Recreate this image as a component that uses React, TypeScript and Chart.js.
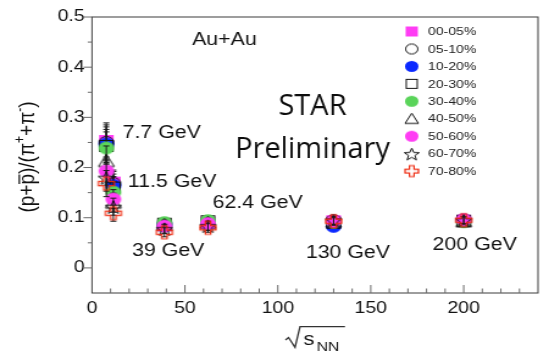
import React, { useEffect, useRef } from "react";
import { Chart, registerables } from "chart.js";

Chart.register(...registerables);

// Collision energies, sqrt(s_NN) in GeV
const energies = [7.7, 11.5, 39, 62.4, 130, 200];
const energyLabels = ["7.7 GeV", "11.5 GeV", "39 GeV", "62.4 GeV", "130 GeV", "200 GeV"];

const centralities = ["00-05%", "05-10%", "10-20%", "20-30%", "30-40%", "40-50%", "50-60%", "60-70%", "70-80%"];

// (p + pbar) / (pi+ + pi-) for each centrality class, one value per energy
const ratio0005 = [0.253, 0.170, 0.085, 0.090, 0.093, 0.094];
const ratio0510 = [0.250, 0.168, 0.086, 0.091, 0.094, 0.095];
const ratio1020 = [0.247, 0.164, 0.087, 0.092, 0.083, 0.095];
const ratio2030 = [0.243, 0.160, 0.088, 0.093, 0.090, 0.094];
const ratio3040 = [0.239, 0.151, 0.090, 0.094, 0.091, 0.092];
const ratio4050 = [0.213, 0.130, 0.086, 0.090, 0.092, 0.093];
const ratio5060 = [0.193, 0.137, 0.083, 0.088, 0.093, 0.096];
const ratio6070 = [0.180, 0.122, 0.078, 0.084, 0.095, 0.095];
const ratio7080 = [0.168, 0.109, 0.071, 0.080, 0.093, 0.095];

// Uncertainties on the ratios above
const err0005 = [0.036, 0.025, 0.009, 0.009, 0.008, 0.007];
const err0510 = [0.035, 0.024, 0.009, 0.009, 0.008, 0.007];
const err1020 = [0.034, 0.023, 0.009, 0.009, 0.008, 0.007];
const err2030 = [0.033, 0.022, 0.009, 0.009, 0.008, 0.007];
const err3040 = [0.032, 0.021, 0.009, 0.009, 0.008, 0.007];
const err4050 = [0.030, 0.019, 0.009, 0.009, 0.008, 0.007];
const err5060 = [0.028, 0.019, 0.009, 0.009, 0.008, 0.007];
const err6070 = [0.027, 0.017, 0.009, 0.009, 0.008, 0.007];
const err7080 = [0.026, 0.016, 0.009, 0.009, 0.008, 0.007];

const xMajorTicks = [0, 50, 100, 150, 200];
const yMajorTicks = [0, 0.1, 0.2, 0.3, 0.4, 0.5];

const ratios = [ratio0005, ratio0510, ratio1020, ratio2030, ratio3040, ratio4050, ratio5060, ratio6070, ratio7080];
const errors = [err0005, err0510, err1020, err2030, err3040, err4050, err5060, err6070, err7080];

const MAGENTA = "#ff3cf4";
const BLUE = "#0a28ff";
const GREEN = "#5ad45a";
const RED = "#ee2a10";
const BLACK = "#111111";

const markerKinds = ["fsquare", "ocircle", "fcircle", "osquare", "fcircle", "otri", "fcircle", "ostar", "ocross"];
const markerColors = [MAGENTA, BLACK, BLUE, BLACK, GREEN, BLACK, MAGENTA, BLACK, RED];

// The bitmap is drawn 450 px wide and shown 549 px wide.
const LOGICAL_W = 450;
const VIEW_W = 549;
const VIEW_H = 353;
const SX = VIEW_W / LOGICAL_W;

const FONT = '"Liberation Sans", Arial, sans-serif';

function makeMarker(kind: string, size: number, color: string): HTMLCanvasElement {
  const pad = 3;
  const dim = Math.ceil(size + pad * 2);
  const c = document.createElement("canvas");
  c.width = dim;
  c.height = dim;
  const g = c.getContext("2d")!;
  const m = dim / 2;
  const r = size / 2;
  g.lineWidth = 1;
  g.strokeStyle = color;
  g.fillStyle = color;
  g.beginPath();
  switch (kind) {
    case "fsquare":
      g.fillRect(m - r, m - r, size, size);
      break;
    case "osquare":
      g.strokeRect(m - r + 0.5, m - r + 0.5, size - 1, size - 1);
      break;
    case "fcircle":
      g.arc(m, m, r, 0, Math.PI * 2);
      g.fill();
      break;
    case "ocircle":
      g.arc(m, m, r - 0.5, 0, Math.PI * 2);
      g.stroke();
      break;
    case "otri":
      g.moveTo(m, m - r);
      g.lineTo(m + r, m + r * 0.85);
      g.lineTo(m - r, m + r * 0.85);
      g.closePath();
      g.stroke();
      break;
    case "ostar": {
      for (let k = 0; k < 10; k++) {
        const rr = k % 2 === 0 ? r : r * 0.42;
        const a = -Math.PI / 2 + (k * Math.PI) / 5;
        const px = m + rr * Math.cos(a);
        const py = m + 1 + rr * Math.sin(a);
        if (k === 0) g.moveTo(px, py);
        else g.lineTo(px, py);
      }
      g.closePath();
      g.stroke();
      break;
    }
    case "ocross": {
      const a = r * 0.34;
      const pts = [
        [-a, -r], [a, -r], [a, -a], [r, -a], [r, a], [a, a],
        [a, r], [-a, r], [-a, a], [-r, a], [-r, -a], [-a, -a],
      ];
      pts.forEach(([px, py], k) => {
        if (k === 0) g.moveTo(m + px, m + py);
        else g.lineTo(m + px, m + py);
      });
      g.closePath();
      g.lineWidth = 1.2;
      g.stroke();
      break;
    }
  }
  return c;
}

function markerSize(kind: string, legend: boolean): number {
  if (kind === "ostar") return legend ? 13 : 14;
  if (kind === "fsquare" || kind === "osquare") return legend ? 10 : 12;
  return legend ? 11 : 13;
}

// Vertical error bars with end caps, drawn just before each dataset's markers
const errorBars = {
  id: "errorBars",
  beforeDatasetDraw(chart: any, args: any) {
    const i = args.index;
    const errs = errors[i];
    const vals = ratios[i];
    const xs = chart.scales.x;
    const ys = chart.scales.y;
    const ctx = chart.ctx as CanvasRenderingContext2D;
    const area = chart.chartArea;
    ctx.save();
    ctx.beginPath();
    ctx.rect(area.left, area.top, area.right - area.left, area.bottom - area.top);
    ctx.clip();
    ctx.strokeStyle = "#1a1a1a";
    ctx.lineWidth = 1;
    energies.forEach((e, j) => {
      const px = xs.getPixelForValue(e);
      const top = ys.getPixelForValue(vals[j] + errs[j]);
      const bot = ys.getPixelForValue(vals[j] - errs[j]);
      ctx.beginPath();
      ctx.moveTo(px, top);
      ctx.lineTo(px, bot);
      ctx.moveTo(px - 2.5, top);
      ctx.lineTo(px + 2.5, top);
      ctx.moveTo(px - 2.5, bot);
      ctx.lineTo(px + 2.5, bot);
      ctx.stroke();
    });
    ctx.restore();
  },
};

// Energy annotations, left edge and baseline in page pixels
const labelSpots = [
  [122.6, 138.4],
  [127.8, 187.4],
  [132, 255.6],
  [212.6, 208],
  [305.8, 257.6],
  [432.6, 250],
];

const decorations = {
  id: "decorations",
  afterDraw(chart: any) {
    const ctx = chart.ctx as CanvasRenderingContext2D;
    const { left, right, top, bottom } = chart.chartArea;
    const xs = chart.scales.x;
    const ys = chart.scales.y;

    // frame
    ctx.save();
    ctx.strokeStyle = "#3c3c3c";
    ctx.lineWidth = 1;
    ctx.strokeRect(left, top, right - left, bottom - top);

    // axis ticks
    ctx.strokeStyle = "#6a6a6a";
    ctx.beginPath();
    for (let v = 10; v < 240; v += 10) {
      const px = xs.getPixelForValue(v);
      const len = v % 50 === 0 ? 8 : 4.5;
      ctx.moveTo(px, bottom);
      ctx.lineTo(px, bottom - len);
    }
    for (let k = 0; k < 11; k++) {
      const v = k * 0.05;
      const py = ys.getPixelForValue(v);
      const len = k % 2 === 0 ? 7 : 3.5;
      ctx.moveTo(left, py);
      ctx.lineTo(left - len, py);
    }
    ctx.stroke();

    // energy labels and system
    ctx.fillStyle = "#111";
    ctx.textBaseline = "alphabetic";
    ctx.textAlign = "left";
    ctx.font = `17.5px ${FONT}`;
    energyLabels.forEach((t, j) => {
      const [cx, cy] = labelSpots[j];
      ctx.fillText(t, cx / SX, cy);
    });
    ctx.fillText("Au+Au", 192 / SX, 44.7);

    // legend
    ctx.font = `11.5px ${FONT}`;
    ctx.textBaseline = "middle";
    ctx.fillStyle = "#222";
    centralities.forEach((c, i) => {
      const y = 31.5 + i * 17.45;
      const img = makeMarker(markerKinds[i], markerSize(markerKinds[i], true), markerColors[i]);
      ctx.drawImage(img, 411.7 / SX - img.width / 2, y - img.height / 2);
      ctx.fillText(c, 428 / SX, y + 0.5);
    });

    // y title: (p+p̄)/(π⁺+π⁻)
    ctx.save();
    ctx.translate(21.3, 157);
    ctx.rotate(-Math.PI / 2);
    const main = `19px ${FONT}`;
    const sup = `12px ${FONT}`;
    const pieces: { t: string; sup?: boolean; bar?: boolean }[] = [
      { t: "(p+" },
      { t: "p", bar: true },
      { t: ")/(π" },
      { t: "+", sup: true },
      { t: "+π" },
      { t: "-", sup: true },
      { t: ")" },
    ];
    let total = 0;
    const widths = pieces.map((p) => {
      ctx.font = p.sup ? sup : main;
      const w = ctx.measureText(p.t).width;
      total += w;
      return w;
    });
    let x = -total / 2;
    ctx.textBaseline = "alphabetic";
    ctx.fillStyle = "#111";
    pieces.forEach((p, k) => {
      ctx.font = p.sup ? sup : main;
      ctx.fillText(p.t, x, p.sup ? -1 : 7);
      if (p.bar) {
        ctx.strokeStyle = "#111";
        ctx.lineWidth = 1.2;
        ctx.beginPath();
        ctx.moveTo(x + 0.5, 7 - 12.5);
        ctx.lineTo(x + widths[k] - 0.5, 7 - 12.5);
        ctx.stroke();
      }
      x += widths[k];
    });
    ctx.restore();

    // x title: √s_NN
    ctx.strokeStyle = "#333";
    ctx.lineWidth = 1.3;
    ctx.beginPath();
    ctx.moveTo(285.5 / SX, 340);
    ctx.lineTo(288.5 / SX, 337.5);
    ctx.lineTo(295 / SX, 347.3);
    ctx.lineTo(300 / SX, 326.7);
    ctx.lineTo(345 / SX, 326.7);
    ctx.stroke();
    ctx.fillStyle = "#111";
    ctx.font = `18px ${FONT}`;
    ctx.fillText("s", 303.5 / SX, 340);
    ctx.font = `13px ${FONT}`;
    ctx.fillText("NN", 316.5 / SX, 347);

    // STAR Preliminary, set in unstretched page pixels
    ctx.save();
    ctx.scale(1 / SX, 1);
    ctx.font = '29px "Open Sans", sans-serif';
    ctx.textAlign = "center";
    ctx.fillStyle = "#0d0d0d";
    ctx.fillText("STAR", 312.5, 106.7);
    ctx.fillText("Preliminary", 312.5, 150);
    ctx.restore();

    ctx.restore();
  },
};

export default function App() {
  const ref = useRef<HTMLCanvasElement | null>(null);

  useEffect(() => {
    document.body.style.margin = "0";
    const canvas = ref.current;
    if (!canvas) return;

    const datasets = centralities.map((label, i) => ({
      label,
      data: energies.map((x, j) => ({ x, y: ratios[i][j] })),
      pointStyle: makeMarker(markerKinds[i], markerSize(markerKinds[i], false), markerColors[i]),
      pointRadius: 6,
      showLine: false,
      order: centralities.length - i,
    }));

    const chart = new Chart(canvas, {
      type: "scatter",
      data: { datasets },
      options: {
        animation: false,
        responsive: false,
        devicePixelRatio: 1,
        layout: { padding: { left: 0, right: 9, top: 17, bottom: 0 } },
        plugins: { legend: { display: false }, tooltip: { enabled: false } },
        scales: {
          x: {
            type: "linear",
            min: 0,
            max: 240,
            afterBuildTicks: (s: any) => {
              s.ticks = xMajorTicks.map((value) => ({ value }));
            },
            afterFit: (s: any) => {
              s.height = 60;
            },
            grid: { display: false, drawTicks: false },
            border: { display: false },
            ticks: {
              autoSkip: false,
              maxRotation: 0,
              padding: 6,
              color: "#111",
              font: { family: FONT, size: 16 },
            },
          },
          y: {
            type: "linear",
            min: -0.05,
            max: 0.5,
            afterBuildTicks: (s: any) => {
              s.ticks = yMajorTicks.map((value) => ({ value }));
            },
            afterFit: (s: any) => {
              s.width = 75.4;
            },
            grid: { display: false, drawTicks: false },
            border: { display: false },
            ticks: {
              autoSkip: false,
              padding: 6,
              color: "#111",
              font: { family: FONT, size: 16 },
              callback: (v: any) => (Number(v) === 0 ? "0" : Number(v).toFixed(1)),
            },
          },
        },
      },
      plugins: [errorBars, decorations],
    } as any);

    return () => chart.destroy();
  }, []);

  return (
    <canvas
      ref={ref}
      width={LOGICAL_W}
      height={VIEW_H}
      style={{ width: `${VIEW_W}px`, height: `${VIEW_H}px`, display: "block" }}
    />
  );
}
